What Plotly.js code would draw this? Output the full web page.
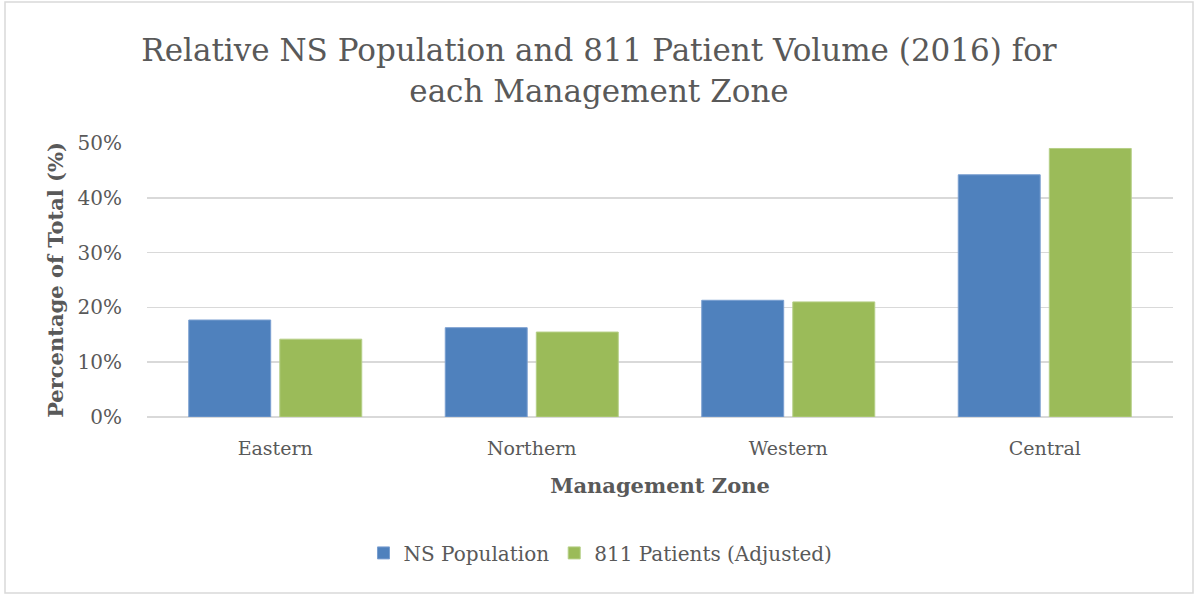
<!DOCTYPE html>
<html>
<head>
<meta charset="utf-8">
<script src="https://cdn.plot.ly/plotly-3.0.1.min.js"></script>
<style>
html,body{margin:0;padding:0;background:#fff;}
#chart{width:1198px;height:596px;}
</style>
</head>
<body>
<div id="chart"></div>
<script>
const zones = ["Eastern", "Northern", "Western", "Central"];
const nsPopulation = [0.177, 0.163, 0.213, 0.442];
const patients811 = [0.142, 0.155, 0.210, 0.490];
const seriesNames = ["NS Population", "811 Patients (Adjusted)"];
const yTickVals = [0, 0.1, 0.2, 0.3, 0.4, 0.5];

const FONT = "DejaVu Serif, Liberation Serif, serif";
const GREY = "#595959";

const traces = [
  {type: "bar", name: seriesNames[0], x: zones, y: nsPopulation,
   marker: {color: "#4F81BD", line: {color: "#7A9FD0", width: 1}}, hoverinfo: "y"},
  {type: "bar", name: seriesNames[1], x: zones, y: patients811,
   marker: {color: "#9BBB59", line: {color: "#B5CF86", width: 1}}, hoverinfo: "y"}
];

const layout = {
  width: 1198, height: 596,
  margin: {l: 147, r: 25, t: 143, b: 179},
  paper_bgcolor: "#fff", plot_bgcolor: "#fff",
  font: {family: FONT, color: GREY, size: 19},
  barmode: "group", bargap: 0.29, bargroupgap: 0.1,
  title: {
    text: "Relative NS Population and 811 Patient Volume (2016) for<br>each Management Zone",
    font: {family: FONT, size: 31, color: GREY},
    x: 0.5, xanchor: "center", xref: "container",
    y: 0.897, yanchor: "top", yref: "container"
  },
  xaxis: {
    type: "category",
    showgrid: false, zeroline: false, showline: false,
    ticks: "outside", ticklen: 14, tickcolor: "rgba(0,0,0,0)",
    tickfont: {family: FONT, size: 19, color: GREY},
    title: {text: "<b>Management Zone</b>", font: {family: FONT, size: 21, color: GREY}, standoff: 20},
    fixedrange: true
  },
  yaxis: {
    range: [0, 0.5], tickvals: yTickVals, tickformat: ".0%",
    showgrid: true, gridcolor: "#D9D9D9", gridwidth: 1.5,
    zeroline: true, zerolinecolor: "#D9D9D9", zerolinewidth: 1.5,
    showline: false,
    ticks: "outside", ticklen: 20, tickcolor: "rgba(0,0,0,0)",
    tickfont: {family: FONT, size: 20, color: GREY},
    title: {text: "<b>Percentage of Total (%)</b>", font: {family: FONT, size: 21, color: GREY}, standoff: 8},
    fixedrange: true
  },
  showlegend: true,
  legend: {
    orientation: "h", x: 0.442, xanchor: "center", xref: "paper",
    y: -0.496, yanchor: "middle",
    font: {family: FONT, size: 20, color: GREY},
    itemwidth: 30, traceorder: "normal"
  },
  shapes: [{
    type: "rect", xref: "paper", yref: "paper",
    x0: -0.1384, x1: 1.0195, y0: -0.642, y1: 1.5146,
    line: {color: "#D9D9D9", width: 1.5}, fillcolor: "rgba(0,0,0,0)", layer: "below"
  }]
};

Plotly.newPlot("chart", traces, layout, {displayModeBar: false, staticPlot: true});
</script>
</body>
</html>
